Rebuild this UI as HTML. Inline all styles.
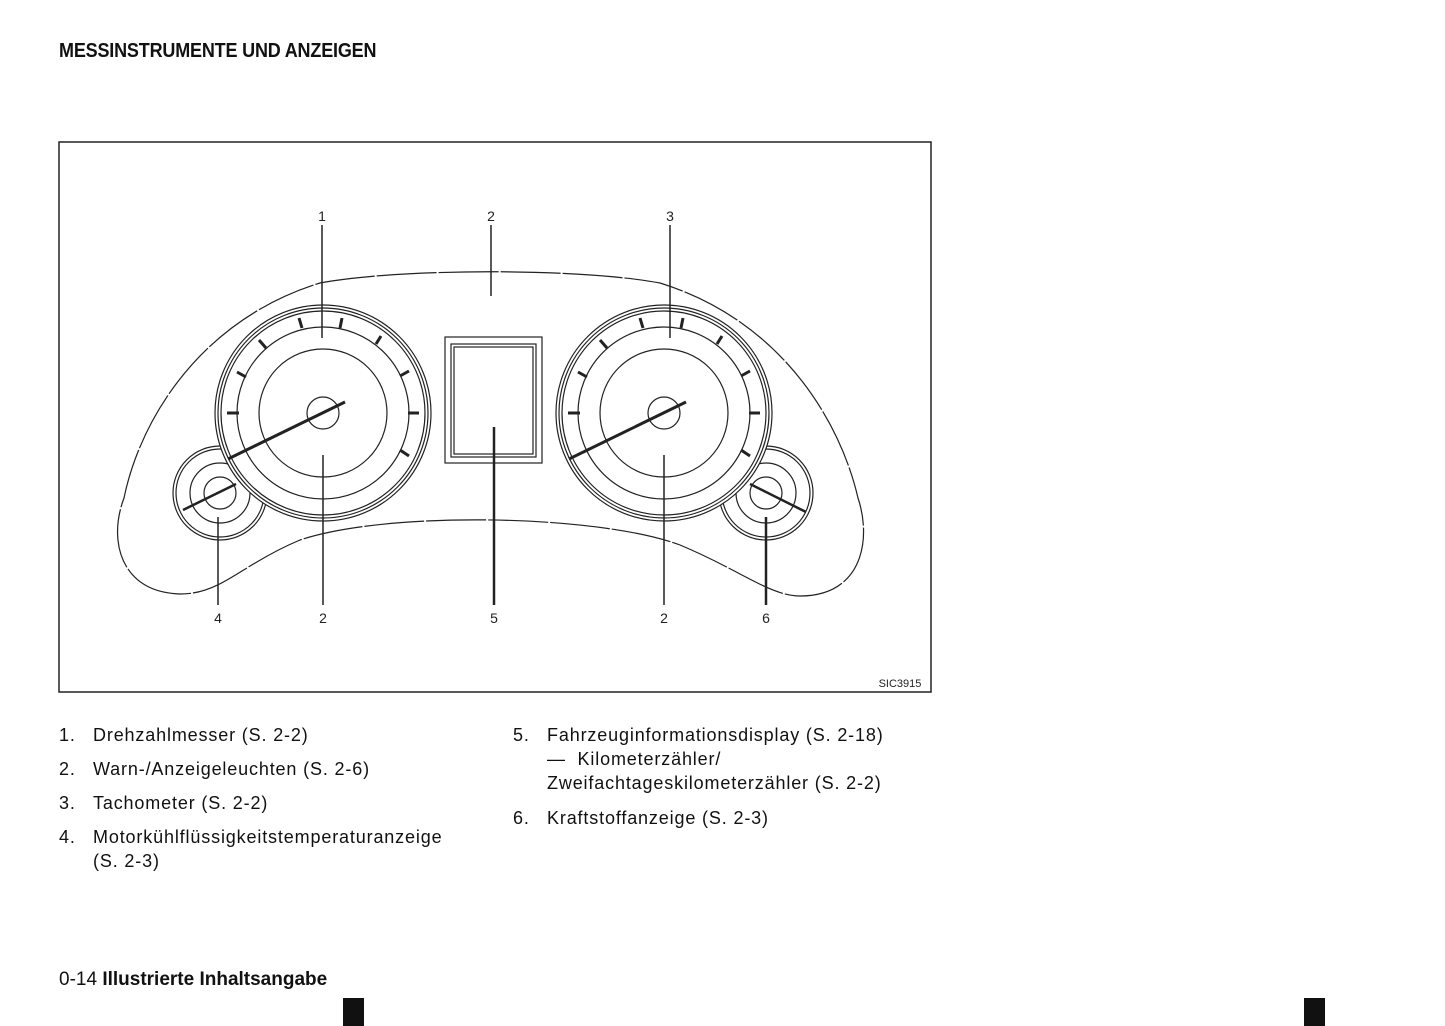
<!DOCTYPE html>
<html><head><meta charset="utf-8"><style>
body{margin:0;width:1445px;height:1026px;background:#fff;position:relative;font-family:"Liberation Sans",sans-serif;color:#111;overflow:hidden}
.h{position:absolute;left:59px;top:40px;font-size:20px;font-weight:bold;letter-spacing:-0.2px;transform:scaleX(0.9);transform-origin:left}
.it{position:absolute;font-size:18px;line-height:24px;letter-spacing:0.85px}
.n{position:absolute;left:0}
.foot{position:absolute;left:59px;top:969px;font-size:19px}
.blk{position:absolute;top:998px;width:21px;height:28px;background:#111}
</style></head><body>
<div class="h">MESSINSTRUMENTE UND ANZEIGEN</div>
<svg style="position:absolute;left:0;top:0" width="1445" height="1026" fill="none" stroke="#222" stroke-width="1.2">
<rect x="59" y="142" width="872" height="550" stroke-width="1.5"/>
<path d="M180,594 C120,592 108,540 124,498 C140,420 200,320 320,283 C400,268 580,268 660,283 C780,320 840,420 858,498 C872,540 862,596 800,596 C770,596 740,570 680,545 C600,515 390,510 300,540 C240,565 222,594 180,594 Z" stroke-dasharray="60 2"/>
<g>
<circle cx="220" cy="493" r="47"/><circle cx="220" cy="493" r="44"/><circle cx="220" cy="493" r="30"/><circle cx="220" cy="493" r="16"/>
</g>
<g>
<circle cx="766" cy="493" r="47"/><circle cx="766" cy="493" r="44"/><circle cx="766" cy="493" r="30"/><circle cx="766" cy="493" r="16"/>
</g>
<line x1="236" y1="484" x2="183" y2="510" stroke-width="2.5"/>
<line x1="750" y1="484" x2="806" y2="512" stroke-width="2.5"/>
<g id="L">
<circle cx="323" cy="413" r="108" fill="#fff"/><circle cx="323" cy="413" r="105"/><circle cx="323" cy="413" r="102"/><circle cx="323" cy="413" r="86"/><circle cx="323" cy="413" r="64"/><circle cx="323" cy="413" r="16"/>
<g stroke-width="3">
<line x1="227" y1="413" x2="239" y2="413"/><line x1="237" y1="372" x2="246" y2="377"/><line x1="259" y1="340" x2="266" y2="348"/><line x1="299" y1="318" x2="302" y2="328"/><line x1="342" y1="318" x2="340" y2="328"/><line x1="381" y1="336" x2="376" y2="344"/><line x1="409" y1="371" x2="400" y2="376"/><line x1="419" y1="413" x2="408" y2="413"/><line x1="409" y1="456" x2="400" y2="450"/>
</g>
<line x1="345" y1="402" x2="228" y2="459" stroke-width="3"/>
</g>
<use href="#L" transform="translate(341,0)"/>
<rect x="445" y="337" width="97" height="126"/><rect x="451" y="344" width="85" height="113"/><rect x="454" y="347" width="79" height="107"/>
<g stroke-width="1.5">
<line x1="322" y1="225" x2="322" y2="338"/><line x1="491" y1="225" x2="491" y2="296"/><line x1="670" y1="225" x2="670" y2="338"/>
<line x1="218" y1="517" x2="218" y2="605"/><line x1="323" y1="455" x2="323" y2="605"/><line x1="494" y1="427" x2="494" y2="605" stroke-width="2.5"/><line x1="664" y1="455" x2="664" y2="605"/><line x1="766" y1="517" x2="766" y2="605" stroke-width="2.5"/>
</g>
<g fill="#222" stroke="none" font-family="Liberation Sans" font-size="14" text-anchor="middle">
<text x="322" y="221">1</text><text x="491" y="221">2</text><text x="670" y="221">3</text>
<text x="218" y="623">4</text><text x="323" y="623">2</text><text x="494" y="623">5</text><text x="664" y="623">2</text><text x="766" y="623">6</text>
<text x="900" y="687" font-size="11">SIC3915</text>
</g>
</svg>
<div class="it" style="left:59px;top:723px"><span class="n">1.</span><span style="margin-left:34px">Drehzahlmesser (S. 2-2)</span></div>
<div class="it" style="left:59px;top:757px"><span class="n">2.</span><span style="margin-left:34px">Warn-/Anzeigeleuchten (S. 2-6)</span></div>
<div class="it" style="left:59px;top:791px"><span class="n">3.</span><span style="margin-left:34px">Tachometer (S. 2-2)</span></div>
<div class="it" style="left:59px;top:825px"><span class="n">4.</span><div style="margin-left:34px">Motorkühlflüssigkeitstemperaturanzeige<br>(S. 2-3)</div></div>
<div class="it" style="left:513px;top:723px"><span class="n">5.</span><div style="margin-left:34px">Fahrzeuginformationsdisplay (S. 2-18)<br>— &nbsp;Kilometerzähler/<br>Zweifachtageskilometerzähler (S. 2-2)</div></div>
<div class="it" style="left:513px;top:806px"><span class="n">6.</span><span style="margin-left:34px">Kraftstoffanzeige (S. 2-3)</span></div>
<div class="foot">0-14 <b>Illustrierte Inhaltsangabe</b></div>
<div class="blk" style="left:343px"></div><div class="blk" style="left:1304px"></div>
</body></html>
